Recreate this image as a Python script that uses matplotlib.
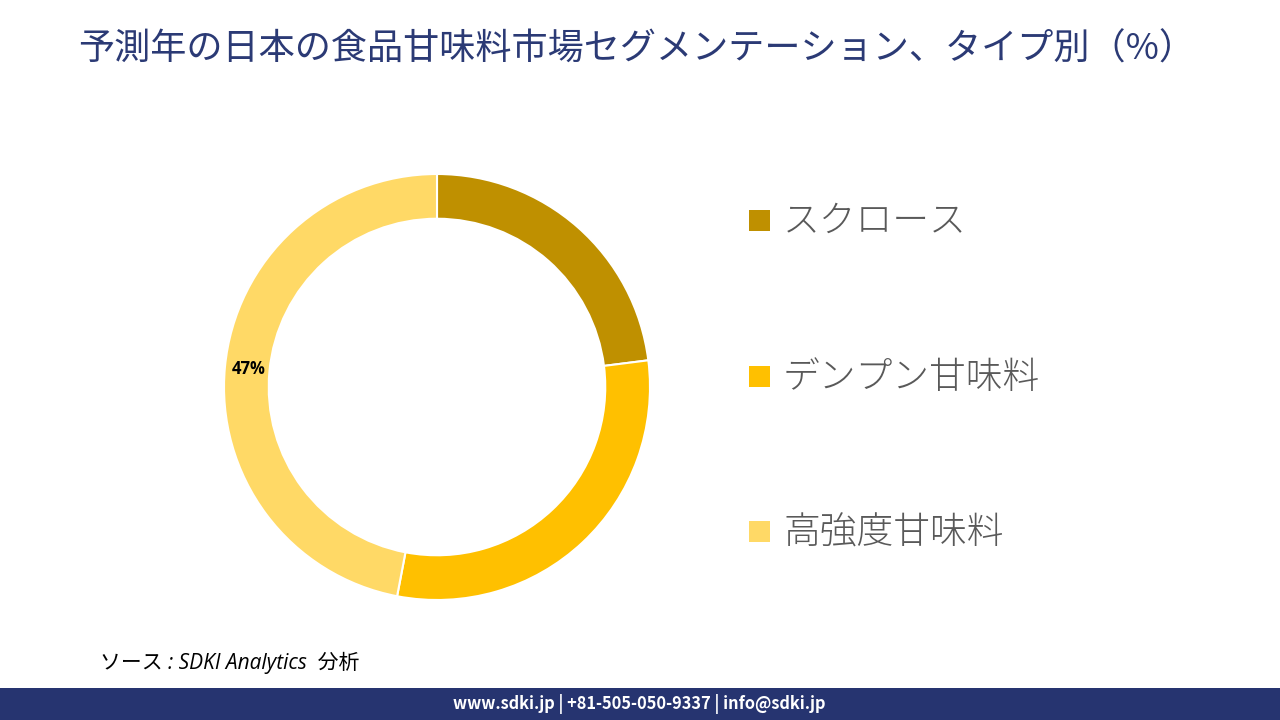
import matplotlib
matplotlib.use("Agg")
import matplotlib.pyplot as plt
from matplotlib.patches import Rectangle
import numpy as np

plt.rcParams['font.family'] = ['Noto Sans CJK JP', 'DejaVu Sans']

title = "予測年の日本の食品甘味料市場セグメンテーション、タイプ別（%）"
categories = ["スクロース", "デンプン甘味料", "高強度甘味料"]
values = [23, 30, 47]
colors = ["#BF9000", "#FFC000", "#FFD966"]
shown_labels = [None, None, "47%"]
source = "ソース : SDKI Analytics  分析"
footer = "www.sdki.jp | +81-505-050-9337 | info@sdki.jp"

W, H = 1280, 720
fig = plt.figure(figsize=(W / 100, H / 100), dpi=100)
fig.patch.set_facecolor("white")

# Donut
cx, cy, r = 437, 387, 213
ax = fig.add_axes([(cx - r) / W, (H - cy - r) / H, 2 * r / W, 2 * r / H])
wedges, _ = ax.pie(values, colors=colors, startangle=90, counterclock=False,
                   radius=1.0, wedgeprops=dict(width=0.21, edgecolor="white", linewidth=1.5))
ax.set_xlim(-1, 1)
ax.set_ylim(-1, 1)
ax.set_aspect("equal")
ax.axis("off")

total = sum(values)
cum = 0
for v, lab in zip(values, shown_labels):
    mid = 90 - (cum + v / 2) / total * 360
    cum += v
    if lab:
        rr = 0.89
        ax.text(rr * np.cos(np.radians(mid)), rr * np.sin(np.radians(mid)), lab,
                ha="center", va="center", fontsize=12, fontweight="bold", color="black",
                family=["Open Sans", "DejaVu Sans"])

# Title
fig.text(78 / W, 1 - 50 / H, title, fontsize=26, color="#2B3A75", ha="left", va="center")

# Legend
ys = [218, 374, 529]
for cat, col, y in zip(categories, colors, ys):
    fig.patches.append(Rectangle((749 / W, 1 - (y + 13) / H), 21 / W, 21 / H,
                                 transform=fig.transFigure, facecolor=col, edgecolor="none"))
    fig.text(783 / W, 1 - (y + 4) / H, cat, fontsize=26.5, color="#595959", ha="left",
             va="center", fontweight="light")

# Source
fig.text(100 / W, 1 - 663 / H, source, fontsize=15, style="italic", color="black",
         ha="left", va="center", family=["Open Sans", "Noto Sans CJK JP"])

# Footer bar
fig.patches.append(Rectangle((0, 0), 1, 32 / H, transform=fig.transFigure,
                             facecolor="#263470", edgecolor="none"))
fig.text(639 / W, 16 / H, footer, fontsize=11.8, fontweight="bold", color="white",
         ha="center", va="center")

fig.savefig("out.png", dpi=100)
